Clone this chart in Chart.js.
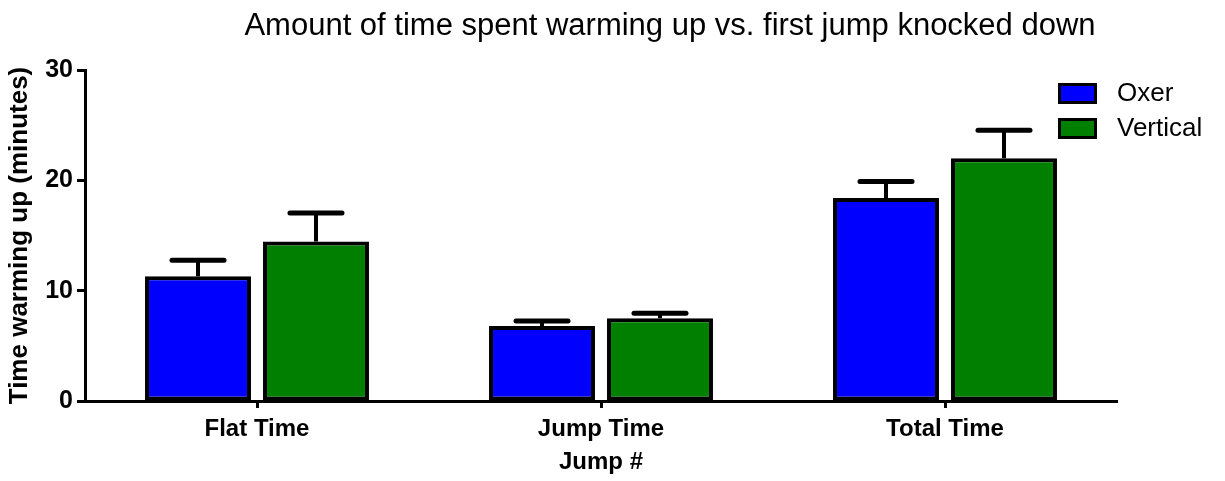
<!DOCTYPE html>
<html>
<head>
<meta charset="utf-8">
<script src="https://cdn.jsdelivr.net/npm/chart.js@4.4.1/dist/chart.umd.min.js"></script>
<style>
  html, body { margin: 0; padding: 0; background: #ffffff; }
  #wrap { width: 1225px; height: 481px; position: relative; }
</style>
</head>
<body>
<div id="wrap"><canvas id="chart" width="1225" height="481"></canvas></div>
<script>
// Warm-up time per session type (minutes), mean and upper error (SEM)
const categories = ['Flat Time', 'Jump Time', 'Total Time'];
const oxerMeans = [11.3, 6.8, 18.4];
const oxerErrors = [1.45, 0.45, 1.5];
const verticalMeans = [14.45, 7.5, 22.0];
const verticalErrors = [2.6, 0.45, 2.55];
const yTicks = [0, 10, 20, 30];

const FONT = "'Liberation Sans', Arial, Helvetica, sans-serif";
const chartTitle = 'Amount of time spent warming up vs. first jump knocked down';

// Upward error bars with a cap, placed through the y scale
const errorBars = {
  id: 'errorBars',
  afterDatasetsDraw(chart) {
    const ctx = chart.ctx;
    const y = chart.scales.y;
    chart.data.datasets.forEach((ds, i) => {
      const meta = chart.getDatasetMeta(i);
      meta.data.forEach((bar, j) => {
        const top = y.getPixelForValue(ds.data[j]);
        const end = y.getPixelForValue(ds.data[j] + ds.errors[j]);
        ctx.save();
        ctx.strokeStyle = '#000';
        ctx.lineWidth = 4;
        ctx.beginPath();
        ctx.moveTo(bar.x, top);
        ctx.lineTo(bar.x, end);
        ctx.stroke();
        ctx.lineWidth = 5;
        ctx.lineCap = 'round';
        ctx.beginPath();
        ctx.moveTo(bar.x - 26, end);
        ctx.lineTo(bar.x + 26, end);
        ctx.stroke();
        ctx.restore();
      });
    });
  }
};

// Title and legend drawn on the canvas
const decorations = {
  id: 'decorations',
  afterDraw(chart) {
    const ctx = chart.ctx;
    ctx.save();
    ctx.fillStyle = '#000';
    ctx.font = '31px ' + FONT;
    ctx.textAlign = 'center';
    ctx.textBaseline = 'alphabetic';
    ctx.fillText(chartTitle, 670, 35);

    ctx.font = '26px ' + FONT;
    ctx.textAlign = 'left';
    ctx.textBaseline = 'middle';
    chart.data.datasets.forEach((ds, i) => {
      const by = 83 + i * 35;
      ctx.fillStyle = '#000';
      ctx.fillRect(1058, by, 39, 21);
      ctx.fillStyle = ds.backgroundColor;
      ctx.fillRect(1061, by + 3, 33, 15);
      ctx.fillStyle = '#000';
      ctx.fillText(ds.label, 1117, by + 11);
    });
    ctx.restore();
  }
};

new Chart(document.getElementById('chart'), {
  type: 'bar',
  data: {
    labels: categories,
    datasets: [
      {
        label: 'Oxer',
        data: oxerMeans,
        errors: oxerErrors,
        backgroundColor: '#0000ff',
        borderColor: '#000000',
        borderWidth: 4,
        borderSkipped: false
      },
      {
        label: 'Vertical',
        data: verticalMeans,
        errors: verticalErrors,
        backgroundColor: '#007f00',
        borderColor: '#000000',
        borderWidth: 4,
        borderSkipped: false
      }
    ]
  },
  options: {
    responsive: false,
    animation: false,
    devicePixelRatio: 1,
    categoryPercentage: 0.686,
    barPercentage: 0.898,
    layout: { padding: { top: 70, right: 108, bottom: 0, left: 0 } },
    plugins: {
      legend: { display: false },
      title: { display: false },
      tooltip: { enabled: false }
    },
    scales: {
      x: {
        offset: true,
        grid: {
          offset: false,
          drawOnChartArea: false,
          drawTicks: true,
          tickLength: 7,
          tickWidth: 3,
          tickColor: '#000'
        },
        border: { display: true, color: '#000', width: 3 },
        ticks: {
          color: '#000',
          padding: 7,
          font: { family: FONT, size: 24, weight: 'bold' }
        },
        title: {
          display: true,
          text: 'Jump #',
          color: '#000',
          font: { family: FONT, size: 24, weight: 'bold' },
          padding: { top: 4, bottom: 4 }
        },
        afterFit(scale) { scale.height = 80; }
      },
      y: {
        min: 0,
        max: 30,
        afterBuildTicks(scale) { scale.ticks = yTicks.map(v => ({ value: v })); },
        grid: {
          drawOnChartArea: false,
          drawTicks: true,
          tickLength: 8,
          tickWidth: 3,
          tickColor: '#000'
        },
        border: { display: true, color: '#000', width: 3 },
        ticks: {
          color: '#000',
          padding: 4,
          font: { family: FONT, size: 25, weight: 'bold' }
        },
        title: {
          display: true,
          text: 'Time warming up (minutes)',
          color: '#000',
          font: { family: FONT, size: 26, weight: 'bold' },
          padding: { top: 4, bottom: 4 }
        },
        afterFit(scale) { scale.width = 85; }
      }
    }
  },
  plugins: [errorBars, decorations]
});
</script>
</body>
</html>
